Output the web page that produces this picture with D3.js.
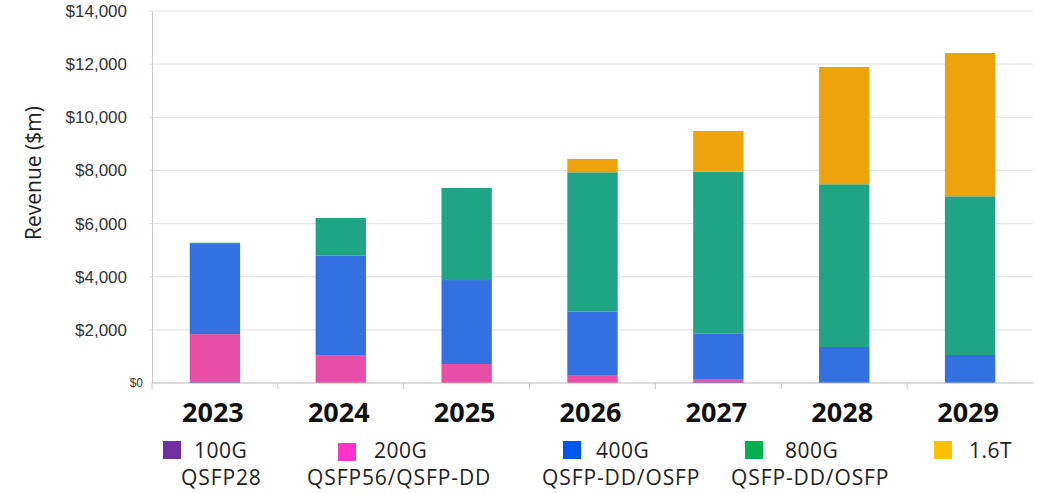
<!DOCTYPE html>
<html>
<head>
<meta charset="utf-8">
<script src="https://cdn.jsdelivr.net/npm/d3@7/dist/d3.min.js"></script>
<style>
  body { margin: 0; background: #fff; }
  svg { font-family: 'Open Sans', 'Noto Sans', sans-serif; }
</style>
</head>
<body>
<svg id="chart" width="1038" height="493"></svg>
<script>
// chart data ($m)
const years = ['2023', '2024', '2025', '2026', '2027', '2028', '2029'];
const seriesKeys = ['g100', 'g200', 'g400', 'g800', 't16'];
const g100 = [40, 0, 0, 0, 40, 0, 0];
const g200 = [1800, 1050, 715, 275, 85, 0, 0];
const g400 = [3390, 3740, 3160, 2410, 1745, 1355, 1054];
const g800 = [50, 1420, 3465, 5245, 6083, 6124, 5973];
const t16 = [0, 0, 0, 500, 1532, 4415, 5393];
const yTicks = [0, 2000, 4000, 6000, 8000, 10000, 12000, 14000];
const legendTop = ['100G', '200G', '400G', '800G', '1.6T'];
const legendBottom = ['QSFP28', 'QSFP56/QSFP-DD', 'QSFP-DD/OSFP', 'QSFP-DD/OSFP', ''];

const barColors = ['#7a3fb0', '#e84ea8', '#3371e0', '#1fa584', '#eda40c'];
const legendColors = ['#7030a0', '#ff33cc', '#0055ee', '#00b050', '#ffc000'];

const width = 1038, height = 493;
const marginLeft = 152, marginRight = 5, marginTop = 11, marginBottom = 110;

const svg = d3.select('#chart');

const table = years.map((y, i) => ({
  year: y, g100: g100[i], g200: g200[i], g400: g400[i], g800: g800[i], t16: t16[i]
}));
const stacked = d3.stack().keys(seriesKeys)(table);

const x = d3.scaleBand().domain(years)
  .range([marginLeft, width - marginRight])
  .paddingInner(0.6).paddingOuter(0.3);
const y = d3.scaleLinear().domain([0, 14000])
  .range([height - marginBottom, marginTop]);

// grid lines
svg.append('g')
  .selectAll('line')
  .data(yTicks.slice(1))
  .join('line')
  .attr('x1', marginLeft - 3)
  .attr('x2', width - marginRight)
  .attr('y1', d => y(d))
  .attr('y2', d => y(d))
  .attr('stroke', '#e6e6e6')
  .attr('stroke-width', 1.2);

// bars
svg.append('g')
  .selectAll('g')
  .data(stacked)
  .join('g')
  .attr('fill', (d, i) => barColors[i])
  .selectAll('rect')
  .data(d => d)
  .join('rect')
  .attr('x', d => x(d.data.year))
  .attr('width', x.bandwidth())
  .attr('y', d => y(d[1]))
  .attr('height', d => y(d[0]) - y(d[1]));

// left axis
const yAxis = svg.append('g')
  .attr('transform', `translate(${marginLeft},0)`)
  .call(d3.axisLeft(y).tickValues(yTicks).tickSize(0).tickPadding(25)
    .tickFormat(d => '$' + d3.format(',')(d)));
yAxis.select('.domain').attr('stroke', '#c8c8c8');
yAxis.selectAll('text')
  .attr('fill', '#333')
  .style('font-size', d => d === 0 ? '12px' : '17px')
  .attr('dx', d => d === 0 ? 16 : 0);

// bottom axis
const step = x.step();
const xAxis = svg.append('g')
  .attr('transform', `translate(0,${y(0)})`);
xAxis.append('line')
  .attr('x1', marginLeft).attr('x2', width - marginRight)
  .attr('stroke', '#b8b8b8').attr('stroke-width', 1.2);
xAxis.selectAll('line.tick')
  .data(years)
  .join('line')
  .attr('class', 'tick')
  .attr('x1', d => x(d) - step * 0.3)
  .attr('x2', d => x(d) - step * 0.3)
  .attr('y1', 0).attr('y2', 6)
  .attr('stroke', '#c8c8c8');
xAxis.selectAll('text')
  .data(years)
  .join('text')
  .attr('x', d => x(d) + x.bandwidth() / 2 - 2)
  .attr('y', 39)
  .attr('text-anchor', 'middle')
  .attr('font-weight', 'bold')
  .style('font-size', '27px')
  .attr('fill', '#111')
  .text(d => d);

// y title
svg.append('text')
  .attr('transform', 'translate(41,173) rotate(-90)')
  .attr('text-anchor', 'middle')
  .style('font-size', '21px')
  .attr('fill', '#222')
  .text('Revenue ($m)');

// legend
const legendX = [163, 338, 563, 745, 934];
const textX = [194, 374, 596, 785, 969];
const line2X = [181, 307, 542, 731, 0];
const topDy = [0, 2, 0, 0, 0];
const legend = svg.append('g');
legendTop.forEach((label, i) => {
  legend.append('rect')
    .attr('x', legendX[i]).attr('y', 441 + topDy[i])
    .attr('width', 18).attr('height', 18)
    .attr('fill', legendColors[i]);
  legend.append('text')
    .attr('x', textX[i]).attr('y', 458)
    .style('font-size', '21px').attr('fill', '#222')
    .style('letter-spacing', '0.5px')
    .text(label);
  legend.append('text')
    .attr('x', line2X[i]).attr('y', 485)
    .style('font-size', '21px').attr('fill', '#222')
    .style('letter-spacing', '0.9px')
    .text(legendBottom[i]);
});
</script>
</body>
</html>
